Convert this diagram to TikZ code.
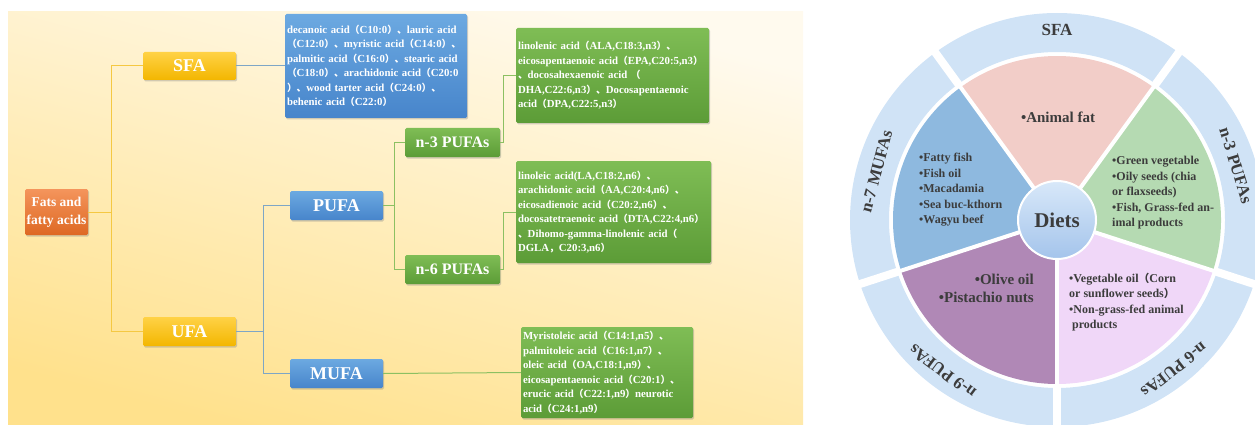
\documentclass[tikz,border=0pt]{standalone}
\usepackage{fontspec}
\setmainfont{Liberation Serif}
\newfontfamily\cjk[Scale=0.9]{Noto Sans CJK SC}
\usetikzlibrary{shadows}
\newcommand{\fwl}{{\cjk （}}
\newcommand{\fwr}{{\cjk ）}}
\newcommand{\fwd}{{\cjk 、}}
\newcommand{\fwc}{{\cjk ，}}
\definecolor{bgA}{HTML}{FFFAEE}
\definecolor{bgB}{HTML}{FFE18C}
\definecolor{orA}{HTML}{F4955C}
\definecolor{orB}{HTML}{DE6823}
\definecolor{gdA}{HTML}{FFD246}
\definecolor{gdB}{HTML}{F3B600}
\definecolor{blA}{HTML}{6CA9E1}
\definecolor{blB}{HTML}{4785CB}
\definecolor{grA}{HTML}{7FBD55}
\definecolor{grB}{HTML}{5C9C37}
\definecolor{yl}{HTML}{F5C842}
\definecolor{bl}{HTML}{7EA6C6}
\definecolor{gl}{HTML}{8CC062}
\definecolor{ringc}{HTML}{D0E3F6}
\definecolor{pinkc}{HTML}{F2CDC8}
\definecolor{greenc}{HTML}{B5DAB2}
\definecolor{lilacc}{HTML}{F0D7F8}
\definecolor{purplec}{HTML}{B088B6}
\definecolor{bluec}{HTML}{8EB9DF}
\definecolor{dietA}{HTML}{D8E8F9}
\definecolor{dietB}{HTML}{A4C4EB}
\definecolor{txt}{HTML}{3C3C3C}

\begin{document}
\begin{tikzpicture}[x=1pt,y=1pt]
\tikzset{
  fabox/.style={rounded corners=1.5pt, text=white, inner sep=0pt,
    drop shadow={opacity=0.35, shadow xshift=1pt, shadow yshift=-1.5pt}},
  orbox/.style={fabox, top color=orA, bottom color=orB, align=center,
    font=\fontsize{13.5}{18}\selectfont\bfseries},
  gdbox/.style={fabox, top color=gdA, bottom color=gdB,
    font=\fontsize{18}{20}\selectfont\bfseries},
  blbox/.style={fabox, top color=blA, bottom color=blB,
    font=\fontsize{18}{20}\selectfont\bfseries},
  grbox/.style={fabox, top color=grA, bottom color=grB,
    font=\fontsize{16}{18}\selectfont\bfseries},
  lst/.style={align=left, inner xsep=2pt,
    font=\fontsize{10.8}{14.5}\selectfont\bfseries},
  yline/.style={yl, line width=1pt},
  bline/.style={bl, line width=1pt},
  gline/.style={gl, line width=1pt},
  pietxt/.style={text=txt, inner sep=0pt, align=left,
    font=\fontsize{12}{15.5}\selectfont\bfseries},
  ringtxt/.style={text=txt, inner sep=0pt,
    font=\fontsize{17}{19}\selectfont\bfseries}
}
\useasboundingbox (0,-425) rectangle (1255,0);
\shade[top color=bgA, bottom color=bgB, shading angle=-15] (8,-12) rectangle (803,-425);

\node[orbox, minimum width=63pt, minimum height=46pt] (FA) at (56.5,-212) {Fats and\\fatty acids};
\node[gdbox, minimum width=93pt, minimum height=28pt] (SFA) at (189.5,-66) {SFA};
\node[gdbox, minimum width=93pt, minimum height=29pt] (UFA) at (189.5,-331.5) {UFA};
\node[blbox, minimum width=93pt, minimum height=29pt] (PUFA) at (336.5,-205.5) {PUFA};
\node[blbox, minimum width=93pt, minimum height=29pt] (MUFA) at (336.5,-373.5) {MUFA};
\node[grbox, minimum width=95pt, minimum height=29pt] (N3) at (452.5,-142.5) {n-3 PUFAs};
\node[grbox, minimum width=95pt, minimum height=29pt] (N6) at (452.5,-269.5) {n-6 PUFAs};

\node[blbox, lst, text width=178pt, minimum height=104pt] (L1) at (376,-66) {%
decanoic acid\fwl C10:0\fwr\fwd lauric acid\\
\fwl C12:0\fwr\fwd myristic acid\fwl C14:0\fwr\fwd\\
palmitic acid\fwl C16:0\fwr\fwd stearic acid\\
\fwl C18:0\fwr\fwd arachidonic acid\fwl C20:0\\
\fwr\fwd wood tarter acid\fwl C24:0\fwr\fwd\\
behenic acid\fwl C22:0\fwr};
\node[grbox, lst, text width=189pt, minimum height=95pt] (L2) at (612.5,-75.5) {%
linolenic acid\fwl ALA,C18:3,n3\fwr\fwd\\
eicosapentaenoic acid\fwl EPA,C20:5,n3\fwr\\
\fwd docosahexaenoic acid \fwl\\
DHA,C22:6,n3\fwr\fwd Docosapentaenoic\\
acid\fwl DPA,C22:5,n3\fwr};
\node[grbox, lst, text width=191pt, minimum height=102pt] (L3) at (613.5,-212) {%
linoleic acid(LA,C18:2,n6\fwr\fwd\\
arachidonic acid\fwl AA,C20:4,n6\fwr\fwd\\
eicosadienoic acid\fwl C20:2,n6\fwr\fwd\\
docosatetraenoic acid\fwl DTA,C22:4,n6\fwr\\
\fwd Dihomo-gamma-linolenic acid\fwl\\
DGLA\fwc C20:3,n6\fwr};
\node[grbox, lst, text width=168pt, minimum height=91pt] (L4) at (607,-372.5) {%
Myristoleic acid\fwl C14:1,n5\fwr\fwd\\
palmitoleic acid\fwl C16:1,n7\fwr\fwd\\
oleic acid\fwl OA,C18:1,n9\fwr\fwd\\
eicosapentaenoic acid\fwl C20:1\fwr\fwd\\
erucic acid\fwl C22:1,n9\fwr neurotic\\
acid\fwl C24:1,n9\fwr};

\draw[yline] (FA.east) -- ++(23,0) |- (SFA.west);
\draw[yline] (FA.east) -- ++(23,0) |- (UFA.west);
\draw[bline] (SFA.east) -- (L1.west);
\draw[bline] (UFA.east) -- ++(27,0) |- (PUFA.west);
\draw[bline] (UFA.east) -- ++(27,0) |- (MUFA.west);
\draw[gline] (PUFA.east) -- ++(11,0) |- (N3.west);
\draw[gline] (PUFA.east) -- ++(11,0) |- (N6.west);
\draw[gline] (N3.east) -- ++(3,0) |- (L2.west);
\draw[gline] (N6.east) -- ++(3,0) |- (L3.west);
\draw[gline] (MUFA.east) -- (L4.west);

\begin{scope}
\clip (830,-425) rectangle (1255,0);
\begin{scope}[shift={(1057,-220)}]
\fill[ringc, even odd rule] (0,0) circle[radius=207pt] (0,0) circle[radius=168pt];
\foreach \a in {-90,-18,54,126,198}
  \draw[white, line width=8pt] (0,0) -- (\a:215);
\fill[pinkc] (0,0) -- (54:164) arc[start angle=54, end angle=126, radius=164pt] -- cycle;
\fill[greenc] (0,0) -- (-18:164) arc[start angle=-18, end angle=54, radius=164pt] -- cycle;
\fill[lilacc] (0,0) -- (-90:164) arc[start angle=-90, end angle=-18, radius=164pt] -- cycle;
\fill[purplec] (0,0) -- (198:164) arc[start angle=198, end angle=270, radius=164pt] -- cycle;
\fill[bluec] (0,0) -- (126:164) arc[start angle=126, end angle=198, radius=164pt] -- cycle;
\foreach \a in {-90,-18,54,126,198}
  \draw[white, line width=4pt] (0,0) -- (\a:166);
\node[circle, minimum size=78pt, draw=white, line width=2pt, top color=dietA, bottom color=dietB,
  text=txt, font=\fontsize{21}{24}\selectfont\bfseries] (D) at (0,0) {Diets};
\node[pietxt, font=\fontsize{15}{18}\selectfont\bfseries] (P1) at (1,103) {•Animal fat};
\node[pietxt, anchor=west] (P2) at (-138,30) {•Fatty fish\\•Fish oil\\•Macadamia\\•Sea buc-kthorn\\•Wagyu beef};
\node[pietxt, anchor=west] (P3) at (55,27) {•Green vegetable\\•Oily seeds (chia\\or flaxseeds)\\•Fish, Grass-fed an-\\imal products};
\node[pietxt, anchor=west] (P4) at (12,-82) {•Vegetable oil\fwl Corn\\or sunflower seeds\fwr\\•Non-grass-fed animal\\\ products};
\node[pietxt, anchor=east, align=right, font=\fontsize{15}{18}\selectfont\bfseries] (P5) at (-23,-68) {•Olive oil\\•Pistachio nuts};
\node[ringtxt] (R1) at (90:190) {SFA};
\node[ringtxt, rotate=-73] (R2) at (17:187) {n-3 PUFAs};
\node[ringtxt, rotate=-142] (R3) at (-52:190) {n-6 PUFAs};
\node[ringtxt, rotate=143] (R4) at (-127:190) {n-9 PUFAs};
\node[ringtxt, rotate=75] (R5) at (165:187) {n-7 MUFAs};
\end{scope}
\end{scope}
\end{tikzpicture}
\end{document}
